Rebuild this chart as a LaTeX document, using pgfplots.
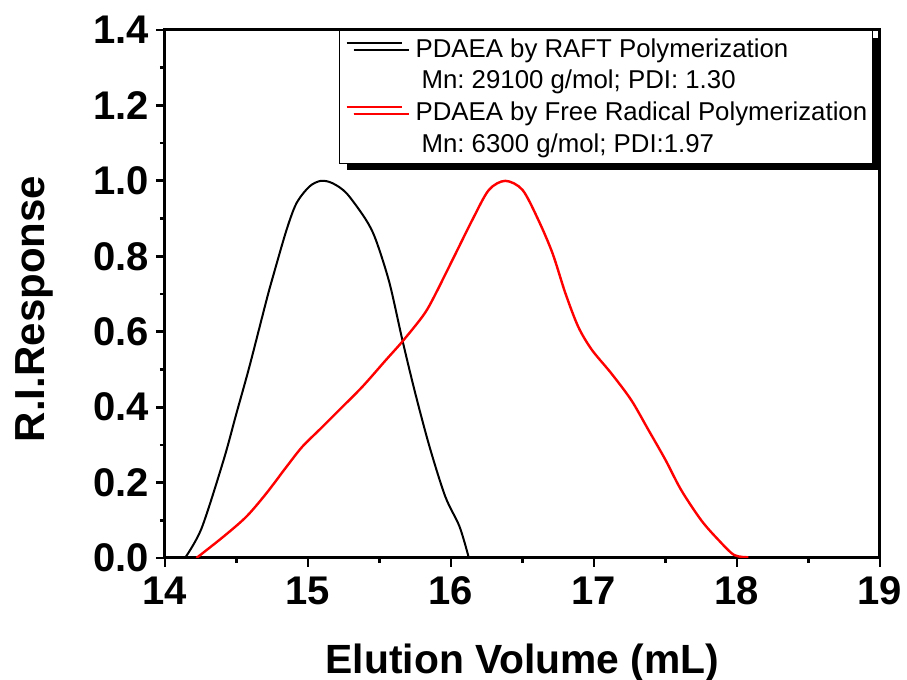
\documentclass[border=0pt]{standalone}
\usepackage{fontspec}
\setmainfont{Liberation Sans}
\usepackage{pgfplots}
\pgfplotsset{compat=1.18}
\usetikzlibrary{shadows}

\begin{document}
\frenchspacing
\begin{tikzpicture}
\begin{axis}[
    scale only axis,
    width=357.5pt, height=264pt,
    xmin=14, xmax=19,
    ymin=0, ymax=1.4,
    xtick={14,15,16,17,18,19},
    ytick={0,0.2,0.4,0.6,0.8,1.0,1.2,1.4},
    minor xtick={14.5,15.5,16.5,17.5,18.5},
    minor ytick={0.1,0.3,0.5,0.7,0.9,1.1,1.3},
    tick align=outside,
    xtick pos=bottom, ytick pos=left,
    major tick length=4.5pt, minor tick length=2.5pt,
    every major tick/.append style={black, line width=1.4pt},
    every minor tick/.append style={black, line width=1.3pt},
    axis line style={line width=1.5pt},
    /pgf/number format/assume math mode=true,
    ticklabel style={font=\fontsize{20}{24}\selectfont\bfseries},
    xticklabel style={yshift=-1.5pt},
    yticklabel style={/pgf/number format/.cd, fixed, fixed zerofill, precision=1},
    xlabel={Elution Volume (mL)},
    ylabel={R.I.Response},
    every axis x label/.style={at={(axis description cs:0.5,-0.218)}, anchor=base, font=\fontsize{20.4}{24}\selectfont\bfseries},
    every axis y label/.style={at={(axis description cs:-0.168,0.4716)}, rotate=90, anchor=base, font=\fontsize{21}{25}\selectfont\bfseries},
    legend cell align=left,
    legend style={
        at={(axis description cs:0.99,1)}, anchor=north east,
        draw=black, line width=0.6pt, fill=white,
        font=\fontsize{12.9}{15}\selectfont,
        row sep=0pt, column sep=5pt, inner xsep=1pt, inner ysep=1.5pt,
        nodes={inner xsep=1.5pt, inner ysep=2.5pt},
        drop shadow={shadow xshift=3.5pt, shadow yshift=-3.5pt, fill=black, opacity=1},
    },
    legend image code/.code={\draw[#1, line width=1pt] (2.5pt,3pt) -- (30pt,3pt);},
]

\addplot[black, line width=1pt, smooth, tension=0.5] coordinates {
    (14.14,0) (14.256,0.079) (14.41,0.26) (14.50,0.384) (14.59,0.507) (14.71,0.684)
    (14.755,0.746) (14.85,0.87) (14.92,0.941) (15.01,0.985) (15.09,1.0) (15.17,0.994)
    (15.27,0.967) (15.405,0.897) (15.475,0.843) (15.57,0.729) (15.66,0.578) (15.75,0.437)
    (15.85,0.295) (15.96,0.163) (16.06,0.083) (16.125,0.0)
};
\addlegendentry{PDAEA by RAFT Polymerization}
\addlegendimage{empty legend}
\addlegendentry{\hspace{3pt}Mn: 29100 g/mol; PDI: 1.30}

\addplot[red, line width=1.2pt, smooth, tension=0.5] coordinates {
    (14.22,0) (14.41,0.057) (14.57,0.11) (14.71,0.172) (14.85,0.242) (14.96,0.295)
    (15.08,0.34) (15.22,0.393) (15.38,0.454) (15.545,0.525) (15.66,0.574) (15.80,0.64)
    (15.87,0.684) (16.01,0.79) (16.15,0.897) (16.265,0.976) (16.38,1.0) (16.50,0.976)
    (16.61,0.897) (16.71,0.808) (16.80,0.702) (16.89,0.613) (16.985,0.552) (17.12,0.49)
    (17.26,0.419) (17.38,0.34) (17.50,0.26) (17.61,0.18) (17.75,0.10) (17.87,0.048)
    (17.98,0.008) (18.08,0.002)
};
\addlegendentry{PDAEA by Free Radical Polymerization}
\addlegendimage{empty legend}
\addlegendentry{\hspace{3pt}Mn: 6300 g/mol; PDI:1.97}

\end{axis}
\pgfresetboundingbox
\useasboundingbox (-82.5pt,-61pt) rectangle (371pt,279pt);
\end{tikzpicture}
\end{document}
